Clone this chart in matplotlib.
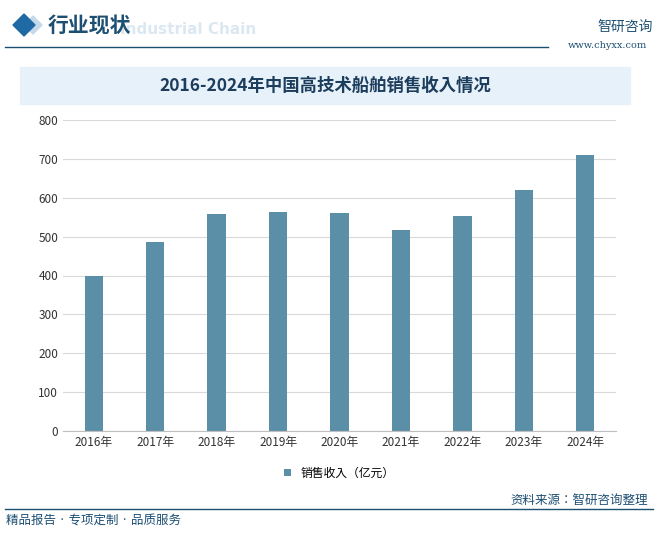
import matplotlib.pyplot as plt
from matplotlib import font_manager
from matplotlib.patches import Rectangle, Polygon

years = ['2016年', '2017年', '2018年', '2019年', '2020年', '2021年', '2022年', '2023年', '2024年']
revenue = [400, 487, 558, 563, 560, 517, 553, 620, 710]
yticks = [0, 100, 200, 300, 400, 500, 600, 700, 800]

# make sure a CJK font is registered
cjk = []
for f in font_manager.findSystemFonts():
    if 'CJK' in f or 'cjk' in f:
        try:
            font_manager.fontManager.addfont(f)
            cjk.append(font_manager.FontProperties(fname=f).get_name())
        except Exception:
            pass
families = ['Noto Sans CJK SC', 'Noto Sans CJK JP', 'Noto Sans CJK TC'] + cjk + ['DejaVu Sans']
plt.rcParams['font.family'] = families

W, H = 658, 540
fig = plt.figure(figsize=(W / 100, H / 100), dpi=100)

def fx(x):
    return x / W

def fy(y):
    return 1 - y / H

# header
fig.patches.append(Polygon([(fx(24), fy(25)), (fx(33), fy(16)), (fx(42), fy(25)), (fx(33), fy(34))],
                           closed=True, transform=fig.transFigure, color='#c5d9ea'))
fig.patches.append(Polygon([(fx(13), fy(25)), (fx(24), fy(14)), (fx(35), fy(25)), (fx(24), fy(36))],
                           closed=True, transform=fig.transFigure, color='#1f6aa5'))
fig.text(fx(120), fy(30), 'Industrial Chain', fontsize=11, color='#dbe8f2', va='center',
         weight='bold', family='DejaVu Sans')
fig.text(fx(48), fy(26), '行业现状', fontsize=15, color='#1d4f73', va='center', weight='bold')
fig.add_artist(plt.Line2D([fx(5), fx(548)], [fy(47), fy(47)], color='#1d4f73', lw=1))
fig.text(fx(597), fy(27), '智研咨询', fontsize=10, color='#1d4f73', va='center')
fig.text(fx(568), fy(46), 'www.chyxx.com', fontsize=7, color='#1d4f73', va='center', family='DejaVu Serif')

# title band
fig.patches.append(Rectangle((fx(20), fy(104)), fx(610), 37 / H, transform=fig.transFigure,
                             color='#e6f1fa', zorder=0))
fig.text(fx(325), fy(86), '2016-2024年中国高技术船舶销售收入情况', fontsize=12.5, color='#1d3d5c',
         ha='center', va='center', weight='bold')

ax = fig.add_axes([fx(63), fy(431), fx(553), 311 / H])
x = range(len(years))
ax.bar(x, revenue, width=0.3, color='#5b8fa8', label='销售收入（亿元）', zorder=2)
ax.set_xlim(-0.5, len(years) - 0.5)
ax.set_ylim(0, 800)
ax.set_yticks(yticks)
ax.set_xticks(list(x))
ax.set_xticklabels(years)
ax.tick_params(labelsize=8.5, colors='#333333', length=0)
ax.grid(axis='y', color='#d9d9d9', lw=0.8, zorder=0)
for s in ['top', 'right', 'left']:
    ax.spines[s].set_visible(False)
ax.spines['bottom'].set_color('#bfbfbf')
ax.legend(loc='upper center', bbox_to_anchor=(0.5, -0.08), frameon=False, fontsize=8.5,
          handlelength=0.6, handleheight=0.6)

# footer
fig.add_artist(plt.Line2D([fx(5), fx(653)], [fy(509), fy(509)], color='#1d4f73', lw=1))
fig.text(fx(6), fy(521), '精品报告 · 专项定制 · 品质服务', fontsize=9, color='#1d4f73', va='center')
fig.text(fx(648), fy(500), '资料来源：智研咨询整理', fontsize=9, color='#1d4f73', va='center', ha='right')

fig.savefig('out.png', dpi=100)
